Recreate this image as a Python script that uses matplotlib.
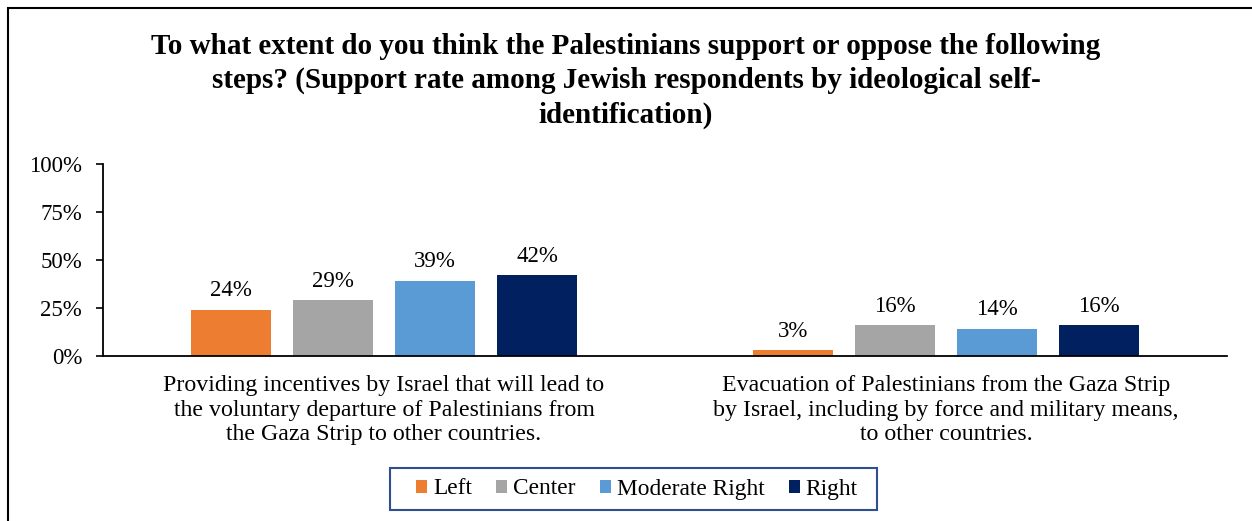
import numpy as np
import matplotlib.pyplot as plt
from matplotlib.patches import Rectangle

# data
categories = [
    "Providing incentives by Israel that will lead to\nthe voluntary departure of Palestinians from\nthe Gaza Strip to other countries.",
    "Evacuation of Palestinians from the Gaza Strip\nby Israel, including by force and military means,\nto other countries.",
]
groups = ["Left", "Center", "Moderate Right", "Right"]
left = [24, 3]
center = [29, 16]
moderate_right = [39, 14]
right = [42, 16]
colors = ["#ED7D31", "#A5A5A5", "#5B9BD5", "#002060"]
yticks = [0, 25, 50, 75, 100]

plt.rcParams['font.family'] = ['Liberation Serif', 'DejaVu Serif']

W, H = 1252, 521
fig = plt.figure(figsize=(W / 100, H / 100), dpi=100)
# outer chart frame (partly cropped in the reference)
fig.patches.append(Rectangle((8 / W, -0.1), 1.2, 1 - 8 / H + 0.1,
                             transform=fig.transFigure, fill=False,
                             edgecolor='black', linewidth=1.5))

ax = fig.add_axes([103 / W, 1 - 356 / H, (1227 - 103) / W, 192 / H])

x = np.arange(len(categories))
width = 0.144
step = 0.1815
series = [left, center, moderate_right, right]
for i, (name, vals, col) in enumerate(zip(groups, series, colors)):
    pos = x + (i - 1.5) * step
    bars = ax.bar(pos, vals, width, color=col, label=name)
    for b, v in zip(bars, vals):
        ax.text(b.get_x() + b.get_width() / 2, v + 4.5, f"{v}%",
                ha='center', va='bottom', fontsize=16.5)

ax.set_xlim(-0.5, 1.5)
ax.set_ylim(0, 100)
ax.set_yticks(yticks)
ax.set_yticklabels([f"{t}%" for t in yticks], fontsize=16.5)
ax.set_xticks(x)
ax.set_xticklabels(categories, fontsize=17.2, linespacing=1.22)
ax.tick_params(axis='x', length=0, pad=14)
ax.tick_params(axis='y', length=5, width=1.2, direction='out', pad=10)
for s in ['top', 'right']:
    ax.spines[s].set_visible(False)
ax.spines['left'].set_linewidth(1.3)
ax.spines['bottom'].set_linewidth(1.3)

fig.suptitle("To what extent do you think the Palestinians support or oppose the following\n"
             "steps? (Support rate among Jewish respondents by ideological self-\n"
             "identification)",
             fontsize=21, fontweight='bold', y=0.937, linespacing=1.34)

# legend box drawn separately so its padding can match the reference
fig.patches.append(Rectangle((390 / W, 1 - 510 / H), (877 - 390) / W, 42 / H,
                             transform=fig.transFigure, fill=False,
                             edgecolor='#2F4F8F', linewidth=1.5))
leg = fig.legend(loc='center', bbox_to_anchor=(637 / W, 1 - 489 / H), ncol=4,
                 fontsize=16.8, frameon=False, handlelength=0.47,
                 handleheight=0.47, handletextpad=0.25, columnspacing=1.04,
                 borderpad=0, borderaxespad=0)

fig.savefig("out.png", dpi=100)
